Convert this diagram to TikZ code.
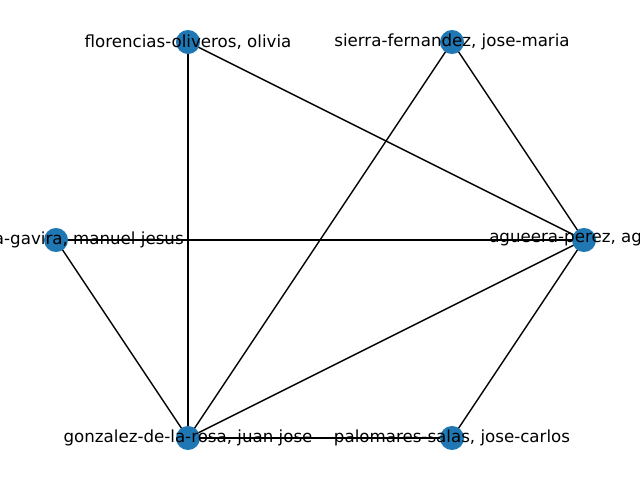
\documentclass[tikz,border=0pt]{standalone}
\usepackage{fontspec}
\setmainfont{DejaVu Sans}
\definecolor{nodeblue}{HTML}{1F77B4}
\tikzset{
  vertex/.style={circle, fill=nodeblue, inner sep=0pt, minimum size=17.3pt},
  edge/.style={draw=black, line width=1pt},
  name label/.style={inner sep=0pt, font=\fontsize{12pt}{14pt}\selectfont}
}
\begin{document}
\begin{tikzpicture}[x=0.72pt, y=-0.72pt]
      \useasboundingbox (0,0) rectangle (640,480);
      \clip (0,0) rectangle (640,480);
      %
      \coordinate (agueera)    at (584,240);
      \coordinate (sierra)     at (452,42);
      \coordinate (florencias) at (188,42);
      \coordinate (gavira)     at (56,240);
      \coordinate (gonzalez)   at (188,438);
      \coordinate (palomares)  at (452,438);
      %
      % edges
      \draw[edge] (florencias) -- (gonzalez);
      \draw[edge] (florencias) -- (agueera);
      \draw[edge] (sierra) -- (gonzalez);
      \draw[edge] (sierra) -- (agueera);
      \draw[edge] (gavira) -- (agueera);
      \draw[edge] (gavira) -- (gonzalez);
      \draw[edge] (gonzalez) -- (agueera);
      \draw[edge] (gonzalez) -- (palomares);
      \draw[edge] (palomares) -- (agueera);
      %
      % vertices
      \foreach \v in {agueera, sierra, florencias, gavira, gonzalez, palomares}
        \node[vertex] (\v-dot) at (\v) {};
      %
      % labels
      \node[name label] (florencias-text) at (florencias) {florencias-oliveros, olivia};
      \node[name label] (sierra-text) at (sierra) {sierra-fernandez, jose-maria};
      \node[name label, anchor=west] (agueera-text) at (489,240) {agueera-perez, ag};
      \node[name label, anchor=east] (gavira-text) at (184,240) {a-gavira, manuel jesus};
      \node[name label] (gonzalez-text) at (gonzalez) {gonzalez-de-la-rosa, juan jose};
      \node[name label] (palomares-text) at (palomares) {palomares-salas, jose-carlos};
      %
    \end{tikzpicture}
\end{document}
